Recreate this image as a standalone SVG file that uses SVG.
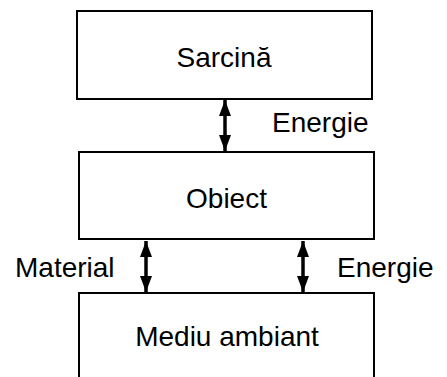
<svg xmlns="http://www.w3.org/2000/svg" width="447" height="377" viewBox="0 0 447 377">
<style>
.box{fill:#fff;stroke:#000;stroke-width:2}
.lbl{font-family:"Liberation Sans",Arial,sans-serif;font-size:28px;fill:#000}
.c{text-anchor:middle}
.con{stroke:#000;stroke-width:3.5;fill:none;marker-start:url(#ah);marker-end:url(#ah)}
</style>
<defs>
<marker id="ah" markerUnits="userSpaceOnUse" viewBox="0 0 16 12" refX="16" refY="6" markerWidth="16" markerHeight="12" orient="auto-start-reverse">
<path d="M0,0 L16,6 L0,12 Z" fill="#000"/>
</marker>
</defs>
<rect width="447" height="377" fill="#fff"/>
<g id="sarcina">
<rect class="box" x="77" y="11" width="295" height="88"/>
<text class="lbl c" x="224" y="67">Sarcină</text>
</g>
<g id="obiect">
<rect class="box" x="79" y="152" width="295" height="87"/>
<text class="lbl c" x="226.5" y="208">Obiect</text>
</g>
<g id="mediu">
<rect class="box" x="79" y="293" width="295" height="100"/>
<text class="lbl c" x="227" y="346">Mediu ambiant</text>
</g>
<g id="connectors">
<line class="con" x1="225" y1="100" x2="225" y2="151"/>
<line class="con" x1="146" y1="241" x2="146" y2="292"/>
<line class="con" x1="303" y1="241" x2="303" y2="292"/>
<text class="lbl" x="272" y="132">Energie</text>
<text class="lbl" x="15" y="277">Material</text>
<text class="lbl" x="337" y="277">Energie</text>
</g>
</svg>
